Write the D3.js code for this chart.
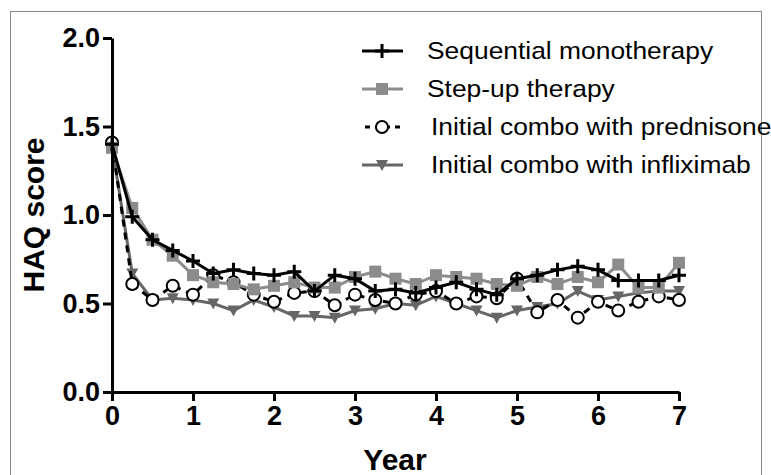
<!DOCTYPE html>
<html>
<head>
<meta charset="utf-8">
<script src="https://cdn.jsdelivr.net/npm/d3@7"></script>
<style>
  body { margin: 0; background: #fff; }
  svg { display: block; font-family: "Liberation Sans", Arial, sans-serif; }
  .axis path, .axis line { stroke: #000; stroke-width: 3; }
  .axis text { font-size: 27px; font-weight: bold; fill: #000; }
</style>
</head>
<body>
<svg width="771" height="475"></svg>
<script>
// time points every quarter year
var years = d3.range(0, 7.001, 0.25);
var xTicks = [0, 1, 2, 3, 4, 5, 6, 7];
var yTicks = [0, 0.5, 1.0, 1.5, 2.0];

var sequential = [1.40, 0.99, 0.86, 0.80, 0.74, 0.67, 0.69, 0.67, 0.66, 0.68, 0.57, 0.66, 0.64, 0.57, 0.58,
                  0.56, 0.59, 0.62, 0.58, 0.55, 0.64, 0.66, 0.69, 0.71, 0.69, 0.63, 0.63, 0.63, 0.66];
var stepUp = [1.38, 1.04, 0.86, 0.77, 0.66, 0.62, 0.61, 0.58, 0.60, 0.62, 0.59, 0.59, 0.65, 0.68, 0.64,
              0.61, 0.66, 0.65, 0.64, 0.61, 0.60, 0.65, 0.61, 0.65, 0.62, 0.72, 0.59, 0.59, 0.73];
var prednisone = [1.41, 0.61, 0.52, 0.60, 0.55, 0.66, 0.62, 0.55, 0.51, 0.56, 0.57, 0.49, 0.55, 0.52, 0.50,
                  0.55, 0.57, 0.50, 0.54, 0.53, 0.64, 0.45, 0.52, 0.42, 0.51, 0.46, 0.51, 0.54, 0.52];
var infliximab = [1.39, 0.67, 0.52, 0.53, 0.52, 0.50, 0.46, 0.52, 0.48, 0.43, 0.43, 0.42, 0.46, 0.47, 0.50,
                  0.49, 0.54, 0.50, 0.46, 0.42, 0.46, 0.48, 0.50, 0.57, 0.52, 0.54, 0.56, 0.57, 0.57];

var seriesNames = ["Sequential monotherapy", "Step-up therapy", "Initial combo with prednisone", "Initial combo with infliximab"];

var svg = d3.select("svg");

// thin frame round the figure
svg.append("rect")
    .attr("x", 10.5).attr("y", 11.5)
    .attr("width", 751).attr("height", 475)
    .attr("fill", "none").attr("stroke", "#8a8a8a").attr("stroke-width", 1);

var x = d3.scaleLinear().domain([0, 7]).range([112, 679]);
var y = d3.scaleLinear().domain([0, 2]).range([392, 38]);

var series = [
    { name: seriesNames[0], values: sequential, color: "#000", marker: "plus", dash: null },
    { name: seriesNames[1], values: stepUp, color: "#8c8c8c", marker: "square", dash: null },
    { name: seriesNames[2], values: prednisone, color: "#000", marker: "circle", dash: "7,6" },
    { name: seriesNames[3], values: infliximab, color: "#666", marker: "tri", dash: null }
];

function drawMarker(g, s) {
    if (s.marker === "plus") {
        g.append("path").attr("d", "M-7,0H7M0,-7V7")
            .attr("stroke", s.color).attr("stroke-width", 3).attr("fill", "none");
    } else if (s.marker === "square") {
        g.append("rect").attr("x", -6).attr("y", -6).attr("width", 12).attr("height", 12)
            .attr("fill", s.color);
    } else if (s.marker === "circle") {
        g.append("circle").attr("r", 6)
            .attr("fill", "#fff").attr("stroke", s.color).attr("stroke-width", 2);
    } else {
        g.append("path").attr("d", "M-6,-5L6,-5L0,6Z").attr("fill", s.color);
    }
}

var line = d3.line()
    .x(function(d, i) { return x(years[i]); })
    .y(function(d) { return y(d); });

var order = [3, 2, 1, 0];
order.forEach(function(k) {
    var s = series[k];
    var g = svg.append("g");
    g.append("path")
        .datum(s.values)
        .attr("d", line)
        .attr("fill", "none")
        .attr("stroke", s.color)
        .attr("stroke-width", 3)
        .attr("stroke-dasharray", s.dash);
    g.selectAll("g.pt")
        .data(s.values)
        .enter().append("g")
        .attr("class", "pt")
        .attr("transform", function(d, i) { return "translate(" + x(years[i]) + "," + y(d) + ")"; })
        .each(function() { drawMarker(d3.select(this), s); });
});

// axes
svg.append("g")
    .attr("class", "axis")
    .attr("transform", "translate(0," + y(0) + ")")
    .call(d3.axisBottom(x).tickValues(xTicks).tickFormat(d3.format("d")).tickSize(9).tickSizeOuter(0).tickPadding(5));

svg.append("g")
    .attr("class", "axis")
    .attr("transform", "translate(" + x(0) + ",0)")
    .call(d3.axisLeft(y).tickValues(yTicks).tickFormat(d3.format(".1f")).tickSize(9).tickSizeOuter(0).tickPadding(3));

svg.append("text")
    .attr("transform", "translate(44,215) rotate(-90)")
    .attr("text-anchor", "middle")
    .attr("font-size", 30).attr("font-weight", "bold")
    .text("HAQ score");

svg.append("text")
    .attr("x", 395).attr("y", 470)
    .attr("text-anchor", "middle")
    .attr("font-size", 30).attr("font-weight", "bold")
    .text("Year");

// legend (the source picture is a little stretched sideways)
var legendY = [51, 89, 127, 165];
var legendTextX = [427, 427, 431, 431];
series.forEach(function(s, i) {
    var g = svg.append("g").attr("transform", "translate(0," + legendY[i] + ")");
    g.append("line")
        .attr("x1", s.dash ? 365 : 362).attr("x2", 403)
        .attr("stroke", s.color).attr("stroke-width", 3)
        .attr("stroke-dasharray", s.dash ? "5,5" : null);
    var m = g.append("g").attr("transform", "translate(382,0)");
    drawMarker(m, s);
    g.append("text")
        .attr("transform", "translate(" + legendTextX[i] + ",8) scale(1.1,1)")
        .attr("font-size", 24)
        .text(s.name);
});
</script>
</body>
</html>
